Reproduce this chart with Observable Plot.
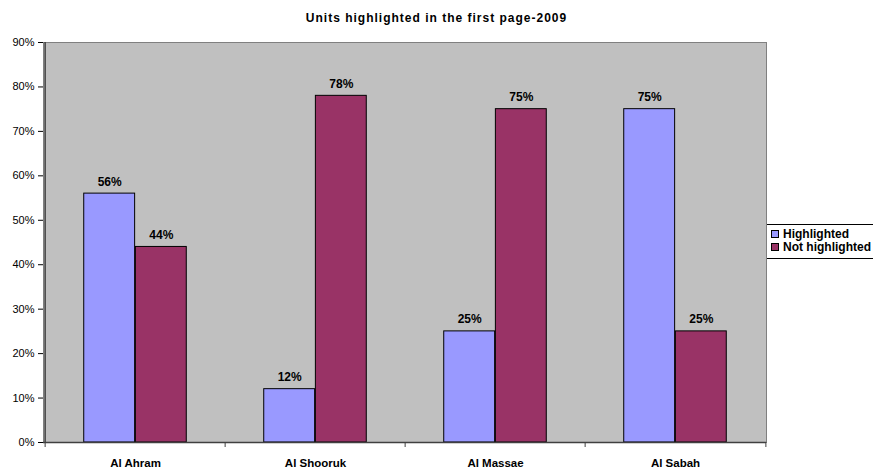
<!DOCTYPE html>
<html>
<head>
<meta charset="utf-8">
<script src="https://cdn.jsdelivr.net/npm/d3@7"></script>
<script src="https://cdn.jsdelivr.net/npm/@observablehq/plot@0.6"></script>
<style>
  html, body { margin: 0; padding: 0; overflow: hidden; background: #fff; }
  #wrap { position: relative; width: 873px; height: 469px; font-family: "Liberation Sans", Arial, sans-serif; }
  #title { position: absolute; left: 0; top: 12px; width: 873px; text-align: center; font-weight: bold; font-size: 12px; letter-spacing: 1px; line-height: 12px; color: #000; }
  #legend { position: absolute; left: 766px; top: 224px; width: 130px; height: 33px; border: 1px solid #000; background: #fff; }
  .item { position: absolute; left: 0; height: 13px; font-size: 12px; line-height: 12px; white-space: nowrap; color: #000; }
  .sw { position: absolute; left: 4px; top: 2px; width: 6px; height: 6px; border: 1px solid #000; }
  .lab { position: absolute; left: 16px; top: 0; font-weight: 700; font-family: "Liberation Sans", Arial, sans-serif; }
  svg { position: absolute; left: 0; top: 0; }
</style>
</head>
<body>
<div id="wrap">
  <div id="title">Units highlighted in the first page-2009</div>
  <div id="legend"></div>
</div>
<script>
const categories = ["Al Ahram", "Al Shooruk", "Al Massae", "Al Sabah"];
const seriesNames = ["Highlighted", "Not highlighted"];
const highlighted = [56, 12, 25, 75];
const notHighlighted = [44, 78, 75, 25];
const yTicks = [0, 10, 20, 30, 40, 50, 60, 70, 80, 90];
const colors = ["#9999FF", "#993366"];

const dataH = categories.map((c, i) => ({category: c, value: highlighted[i]}));
const dataN = categories.map((c, i) => ({category: c, value: notHighlighted[i]}));

const W = 873, H = 469, ML = 43, MR = 107, MT = 42, MB = 27;
const step = (W - ML - MR) / categories.length; // band step
const barW = step / 3.5;
const gap = (step - 2 * barW) / 2;
const off = barW / 2; // offset of bar centre from band centre

const chart = Plot.plot({
  width: W,
  height: H,
  marginLeft: ML,
  marginRight: MR,
  marginTop: MT,
  marginBottom: MB,
  style: {fontFamily: "'Liberation Sans', Arial, sans-serif", background: "transparent", color: "#000"},
  x: {domain: categories, padding: 0, label: null},
  y: {domain: [0, 90], label: null},
  marks: [
    Plot.frame({fill: "#C0C0C0", stroke: "#808080"}),
    Plot.barY(dataH, {x: "category", y: "value", fill: colors[0], stroke: "#000", strokeWidth: 1,
      insetLeft: gap, insetRight: step - gap - barW}),
    Plot.barY(dataN, {x: "category", y: "value", fill: colors[1], stroke: "#000", strokeWidth: 1,
      insetLeft: gap + barW, insetRight: gap}),
    Plot.text(dataH, {x: "category", y: "value", text: d => d.value + "%", dx: -off, dy: -8,
      lineAnchor: "bottom", fontWeight: "bold", fontSize: 12, fill: "#000"}),
    Plot.text(dataN, {x: "category", y: "value", text: d => d.value + "%", dx: off, dy: -8,
      lineAnchor: "bottom", fontWeight: "bold", fontSize: 12, fill: "#000"}),
    Plot.axisY({ticks: yTicks, tickFormat: d => d + "%", tickSize: 5, tickPadding: 4, fontSize: 11, stroke: "#000", fill: "#000"}),
    Plot.axisX({tickSize: 0, tickPadding: 16, fontSize: 11.5, fontWeight: "bold", fill: "#000"}),
    // category boundary ticks below the axis
    Plot.ruleX(categories, {x: d => d, y1: 0, y2: 0, dx: -step / 2, insetBottom: -5, stroke: "#404040", strokeWidth: 1}),
    Plot.ruleX([categories[categories.length - 1]], {x: d => d, y1: 0, y2: 0, dx: step / 2, insetBottom: -5, stroke: "#404040", strokeWidth: 1}),
    Plot.ruleX([categories[0]], {x: d => d, dx: -step / 2, stroke: "#404040", strokeWidth: 1.5}),
    Plot.ruleY([0], {stroke: "#404040", strokeWidth: 1.5})
  ]
});
document.getElementById("wrap").appendChild(chart);

const legend = document.getElementById("legend");
seriesNames.forEach((name, i) => {
  const item = document.createElement("div");
  item.className = "item";
  item.style.top = (3 + i * 13.3) + "px";
  const sw = document.createElement("div");
  sw.className = "sw";
  sw.style.background = colors[i];
  const lab = document.createElement("div");
  lab.className = "lab";
  lab.textContent = name;
  item.appendChild(sw);
  item.appendChild(lab);
  legend.appendChild(item);
});
</script>
</body>
</html>
